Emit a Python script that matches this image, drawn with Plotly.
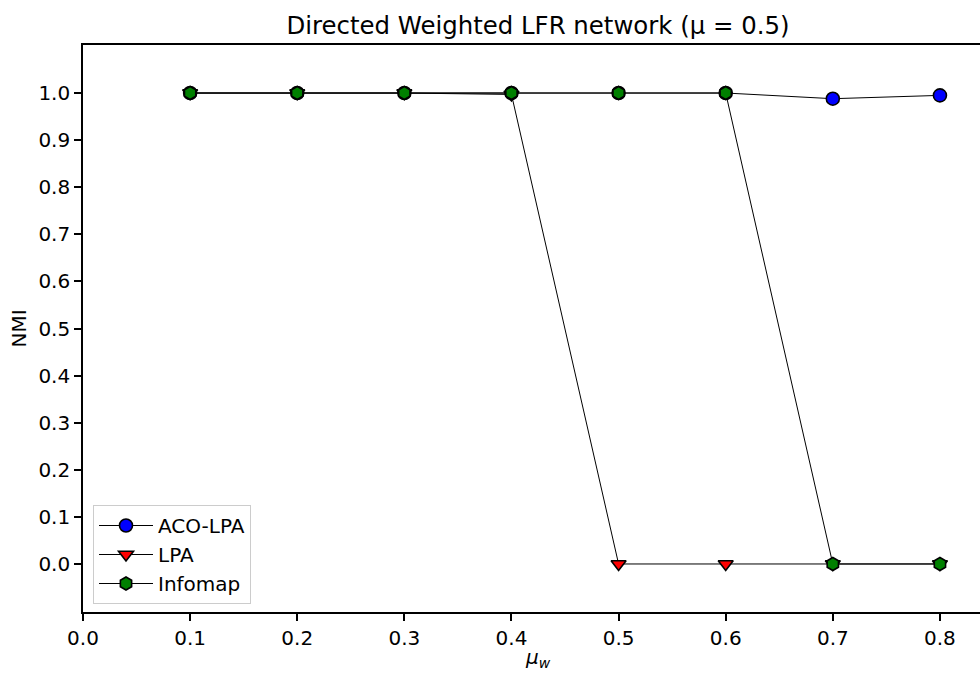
import plotly.graph_objects as go

mu_w = [0.1, 0.2, 0.3, 0.4, 0.5, 0.6, 0.7, 0.8]
aco_lpa = [1.0, 1.0, 1.0, 1.0, 1.0, 1.0, 0.988, 0.995]
lpa = [1.0, 1.0, 1.0, 0.997, 0.0, 0.0, 0.0, 0.0]
infomap = [1.0, 1.0, 1.0, 1.0, 1.0, 1.0, 0.0, 0.0]

x_ticks = [0.0, 0.1, 0.2, 0.3, 0.4, 0.5, 0.6, 0.7, 0.8]
y_ticks = [0.0, 0.1, 0.2, 0.3, 0.4, 0.5, 0.6, 0.7, 0.8, 0.9, 1.0]

FONT = "DejaVu Sans"

fig = go.Figure()
series = [
    ("ACO-LPA", aco_lpa, "circle", "blue", 13),
    ("LPA", lpa, "triangle-down", "red", 13),
    ("Infomap", infomap, "hexagon", "green", 13),
]
for name, ys, sym, col, sz in series:
    fig.add_trace(go.Scatter(
        x=mu_w, y=ys, name=name, mode="lines+markers",
        line=dict(color="black", width=1),
        marker=dict(symbol=sym, color=col, size=sz,
                    line=dict(color="black", width=1.6)),
    ))

W, H = 980, 674
L, R, T, B = 83, 0, 45, 62
PW, PH = W - L - R, H - T - B
fig.update_layout(
    width=W, height=H,
    margin=dict(l=L, r=R, t=T, b=B),
    plot_bgcolor="white", paper_bgcolor="white",
    font=dict(family=FONT, size=20, color="black"),
    title=dict(text="Directed Weighted LFR network (μ = 0.5)",
               x=538 / W, xanchor="center", xref="container",
               y=1 - 25 / H, yanchor="middle", yref="container",
               font=dict(size=24.4, family=FONT, color="black")),
    showlegend=True,
    legend=dict(x=(93 - L) / PW, y=(612 - 505) / PH,
                xanchor="left", yanchor="top",
                bordercolor="#cccccc", borderwidth=1,
                bgcolor="rgba(255,255,255,0.8)",
                itemwidth=54,
                font=dict(size=20, family=FONT, color="black"),
                tracegroupgap=0),
)
fig.update_xaxes(range=[0, 0.8374], tickvals=x_ticks, tickformat=".1f",
                 showgrid=False, zeroline=False,
                 showline=True, linecolor="black", linewidth=1.6, mirror=True,
                 ticks="outside", ticklen=7, tickwidth=1.6, tickcolor="black",
                 tickfont=dict(size=20, family=FONT))
fig.update_yaxes(range=[-0.102, 1.102], tickvals=y_ticks, tickformat=".1f",
                 showgrid=False, zeroline=False,
                 showline=True, linecolor="black", linewidth=1.6,
                 ticks="outside", ticklen=7, tickwidth=1.6, tickcolor="black",
                 tickfont=dict(size=20, family=FONT))

fig.add_annotation(text="<i>μ</i><sub><i>w</i></sub>", xref="paper", yref="paper",
                   x=(538 - L) / PW, y=-(658 - 612) / PH,
                   xanchor="center", yanchor="middle", showarrow=False,
                   font=dict(size=20, family=FONT, color="black"))
fig.add_annotation(text="NMI", xref="paper", yref="paper",
                   x=(18 - L) / PW, y=0.5, textangle=-90,
                   xanchor="center", yanchor="middle", showarrow=False,
                   font=dict(size=20, family=FONT, color="black"))

fig.write_html("out.html",
               config={"displayModeBar": False},
               post_script="document.body.style.margin='0';"
                           "document.body.style.overflow='hidden';")
